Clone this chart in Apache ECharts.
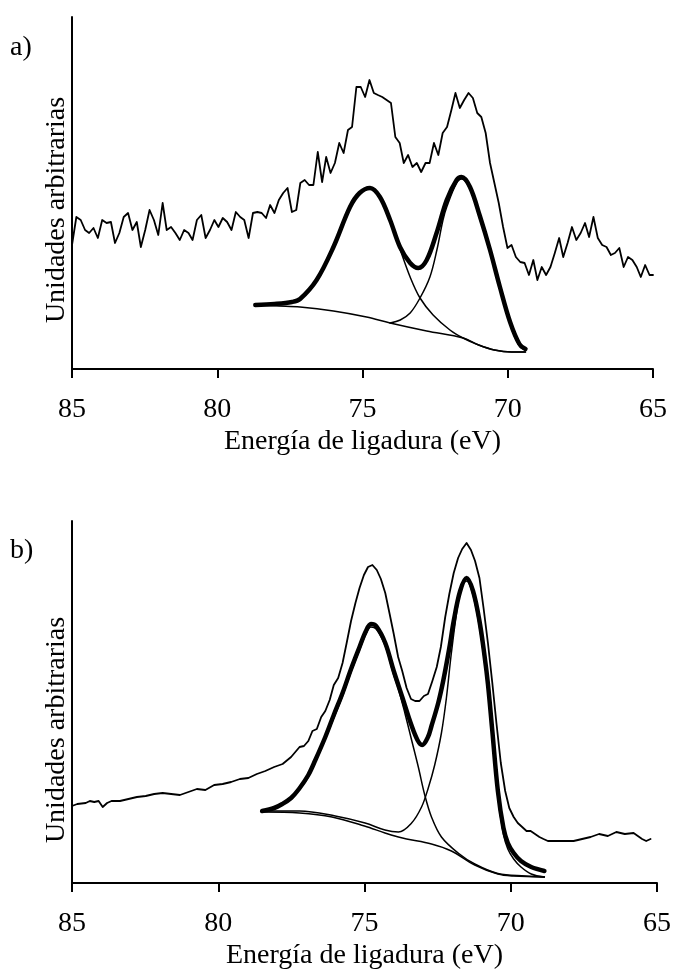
<!DOCTYPE html>
<html>
<head>
<meta charset="utf-8">
<script src="https://cdn.jsdelivr.net/npm/echarts@6/dist/echarts.min.js"></script>
<style>html,body{margin:0;padding:0;background:#fff}#c{width:674px;height:976px}</style>
</head>
<body>
<div id="c"></div>
<script>
// ---------- Panel a) : measured spectrum ----------
const aRawE = [85.00,84.85,84.70,84.55,84.41,84.26,84.11,83.96,83.81,83.66,83.52,83.37,83.22,83.07,82.92,82.77,82.63,82.48,82.33,82.18,82.03,81.88,81.74,81.59,81.44,81.29,81.14,80.99,80.85,80.70,80.55,80.40,80.25,80.10,79.96,79.81,79.66,79.51,79.36,79.21,79.07,78.92,78.77,78.62,78.47,78.32,78.18,78.03,77.88,77.73,77.58,77.43,77.28,77.14,76.99,76.84,76.69,76.54,76.39,76.25,76.10,75.95,75.80,75.65,75.50,75.36,75.21,75.06,74.91,74.76,74.61,74.47,74.32,74.17,74.02,73.87,73.72,73.58,73.43,73.28,73.13,72.98,72.83,72.69,72.54,72.39,72.24,72.09,71.94,71.80,71.65,71.50,71.35,71.20,71.05,70.91,70.76,70.61,70.46,70.31,70.16,70.01,69.87,69.72,69.57,69.42,69.27,69.12,68.98,68.83,68.68,68.53,68.38,68.23,68.09,67.94,67.79,67.64,67.49,67.34,67.20,67.05,66.90,66.75,66.60,66.45,66.31,66.16,66.01,65.86,65.71,65.56,65.42,65.27,65.12,65.00];
const aRawI = [124,152,149,139,136,141,131,149,146,147,126,136,152,156,139,147,122,139,159,149,134,166,139,142,136,129,139,136,129,149,154,131,139,149,142,151,147,139,157,152,149,131,156,157,156,151,164,156,169,176,181,157,159,186,189,184,184,217,187,212,196,206,226,216,239,242,282,282,272,289,276,274,272,269,266,232,226,206,214,202,206,197,206,206,226,214,236,242,259,276,261,269,276,271,256,252,236,206,186,166,142,121,124,112,107,106,94,109,89,102,94,102,116,131,112,126,142,129,136,146,132,152,131,124,122,114,116,121,102,112,109,102,92,104,94,94];
// fitted envelope
const aEnvE = [78.69,78.03,77.43,77.15,76.58,76.00,75.43,75.10,74.74,74.40,74.05,73.71,73.36,73.08,72.79,72.45,72.10,71.76,71.59,71.30,70.96,70.61,70.27,69.92,69.60,69.39];
const aEnvI = [64,65,67,70,89,122,162,176,181,172,149,122,106,101,109,136,169,189,192,182,153,119,82,47,25,20];
// component 1 (higher binding energy)
const aC1E = [78.69,78.03,77.43,77.15,76.58,76.00,75.43,75.10,74.74,74.40,74.05,73.71,73.36,73.02,72.57,71.99,71.54,71.00,70.46,69.87,69.39];
const aC1I = [64,65,67,70,89,122,162,176,181,172,148,120,92,71,54,39,31,24,19,17,17];
// component 2 (lower binding energy)
const aC2E = [74.05,73.70,73.36,73.02,72.68,72.44,72.23,72.10,71.76,71.59,71.30,70.96,70.61,70.27,69.92,69.60,69.39];
const aC2I = [46,49,56,71,92,119,149,162,186,190,180,150,118,81,45,23,19];
// background
const aBgE = [78.69,77.88,77.15,76.00,74.86,74.05,72.79,71.53,71.00,70.46,69.87,69.39];
const aBgI = [64,63,62,58,52,46,38,31,24,19,17,17];

// ---------- Panel b) ----------
const bRawE = [85.00,84.82,84.53,84.39,84.24,84.09,83.95,83.80,83.65,83.36,83.07,82.78,82.48,82.19,81.90,81.61,81.31,81.02,80.73,80.44,80.14,79.85,79.56,79.26,78.97,78.68,78.39,78.09,77.80,77.51,77.22,77.07,76.92,76.78,76.63,76.48,76.34,76.19,76.05,75.90,75.75,75.61,75.46,75.31,75.17,75.02,74.88,74.73,74.58,74.44,74.29,74.14,74.00,73.85,73.71,73.56,73.41,73.27,73.12,72.97,72.83,72.68,72.53,72.39,72.24,72.10,71.95,71.80,71.66,71.51,71.36,71.22,71.07,70.93,70.78,70.63,70.49,70.34,70.19,70.05,69.90,69.76,69.61,69.46,69.32,69.17,69.02,68.88,68.73,68.44,68.15,67.85,67.56,67.27,66.98,66.68,66.39,66.10,65.80,65.51,65.37,65.22];
const bRawI = [77,79,80,82,81,82,76,80,82,82,84,86,87,89,90,89,88,91,94,93,98,99,101,104,105,109,112,116,119,126,136,137,142,152,154,166,172,183,198,205,220,240,262,280,295,308,316,318,313,304,290,269,249,226,212,195,184,182,182,187,189,202,216,236,266,289,310,325,334,340,333,322,305,275,240,200,160,120,92,75,66,60,56,52,52,49,46,44,42,42,42,42,44,46,49,47,51,49,50,44,42,44];
const bEnvE = [78.50,78.09,77.81,77.51,77.24,76.92,76.68,76.34,76.05,75.75,75.46,75.17,74.95,74.78,74.60,74.29,74.00,73.71,73.41,73.19,73.03,72.83,72.71,72.48,72.31,72.10,71.95,71.73,71.51,71.29,71.07,70.90,70.78,70.63,70.44,70.25,70.10,69.90,69.65,69.30,68.85];
const bEnvI = [72,75,79,85,94,108,123,146,168,190,214,236,252,259,257,240,212,186,159,143,138,146,157,180,202,235,262,292,305,292,262,228,199,152,92,55,40,30,22,16,12];
const bC1E = [78.50,78.09,77.81,77.51,77.24,76.92,76.68,76.34,76.05,75.75,75.46,75.17,74.95,74.78,74.60,74.29,74.00,73.84,73.62,73.39,73.16,72.94,72.71,72.37,71.80,71.23,70.44,69.50,68.85];
const bC1I = [72,74,78,84,93,106,121,144,165,187,211,233,249,256,254,237,208,194,170,143,116,88,66,46,30,19,9.5,7,6];
const bC2E = [78.50,77.22,76.00,74.98,74.30,73.84,73.39,73.05,72.82,72.60,72.37,72.20,72.03,71.80,71.65,71.51,71.29,71.07,70.90,70.78,70.63,70.44,70.25,70.10,69.90,69.65,69.30,68.85];
const bC2I = [72,72,67,60,53,51,60,76,95,118,150,185,230,280,298,302,288,256,222,193,146,86,49,34,24,16,9,6];
const bBgE = [78.50,77.22,76.11,75.00,74.30,73.84,73.56,72.71,72.03,71.23,70.44,69.90,68.85];
const bBgI = [71,70,66,57,50,46,44,39,32,18,9,7,6];

const xTicks = [85, 80, 75, 70, 65];
const xTitle = 'Energía de ligadura (eV)';
const yTitle = 'Unidades arbitrarias';
const panelLabels = ['a)', 'b)'];

const pairs = (xs, ys) => xs.map((x, i) => [x, ys[i]]);
const FONT = '"Liberation Serif", "Times New Roman", serif';

function xAxisCfg(gi) {
  return {
    gridIndex: gi, type: 'value', min: Math.min(...xTicks), max: Math.max(...xTicks), interval: 5, inverse: true,
    name: xTitle, nameLocation: 'middle', nameGap: 59,
    nameTextStyle: { fontFamily: FONT, fontSize: 28, color: '#000' },
    axisLine: { onZero: false, lineStyle: { color: '#000', width: 2 } },
    axisTick: { show: true, length: 9, lineStyle: { color: '#000', width: 2 } },
    axisLabel: { margin: 27, fontFamily: FONT, fontSize: 28, color: '#000' },
    splitLine: { show: false }
  };
}
function yAxisCfg(gi, max, shift) {
  return {
    gridIndex: gi, type: 'value', min: 0, max: max,
    name: yTitle, nameLocation: 'middle', nameGap: 1,
    nameTextStyle: { fontFamily: FONT, fontSize: 28, color: '#000', padding: [0, shift * 2, 0, 0] },
    axisLine: { show: true, onZero: false, lineStyle: { color: '#000', width: 2 } },
    axisTick: { show: false }, axisLabel: { show: false }, splitLine: { show: false }
  };
}
function line(gi, xs, ys, width, smooth) {
  return {
    type: 'line', xAxisIndex: gi, yAxisIndex: gi, data: pairs(xs, ys),
    symbol: 'none', smooth: smooth ? 0.35 : false, silent: true,
    lineStyle: { color: '#000', width: width, join: 'round', cap: 'round' }, z: width > 3 ? 3 : 2
  };
}

const chart = echarts.init(document.getElementById('c'), null, { renderer: 'canvas' });
chart.setOption({
  animation: false,
  backgroundColor: '#fff',
  grid: [
    { left: 72, top: 17, width: 581, height: 352 },
    { left: 72, top: 521, width: 588, height: 362 }
  ],
  xAxis: [xAxisCfg(0), xAxisCfg(1)],
  yAxis: [yAxisCfg(0, 352, 17), yAxisCfg(1, 362, 28)],
  graphic: [
    { type: 'text', left: 10, top: 34, style: { text: panelLabels[0], font: '28px "Liberation Serif"', fill: '#000' } },
    { type: 'text', left: 10, top: 537, style: { text: panelLabels[1], font: '28px "Liberation Serif"', fill: '#000' } }
  ],
  series: [
    line(0, aRawE, aRawI, 1.8, false),
    line(0, aBgE, aBgI, 1.5, true),
    line(0, aC1E, aC1I, 1.5, true),
    line(0, aC2E, aC2I, 1.5, true),
    line(0, aEnvE, aEnvI, 4.5, true),
    line(1, bRawE, bRawI, 1.8, false),
    line(1, bBgE, bBgI, 1.5, true),
    line(1, bC1E, bC1I, 1.5, true),
    line(1, bC2E, bC2I, 1.5, true),
    line(1, bEnvE, bEnvI, 4.5, true)
  ]
});
</script>
</body>
</html>
